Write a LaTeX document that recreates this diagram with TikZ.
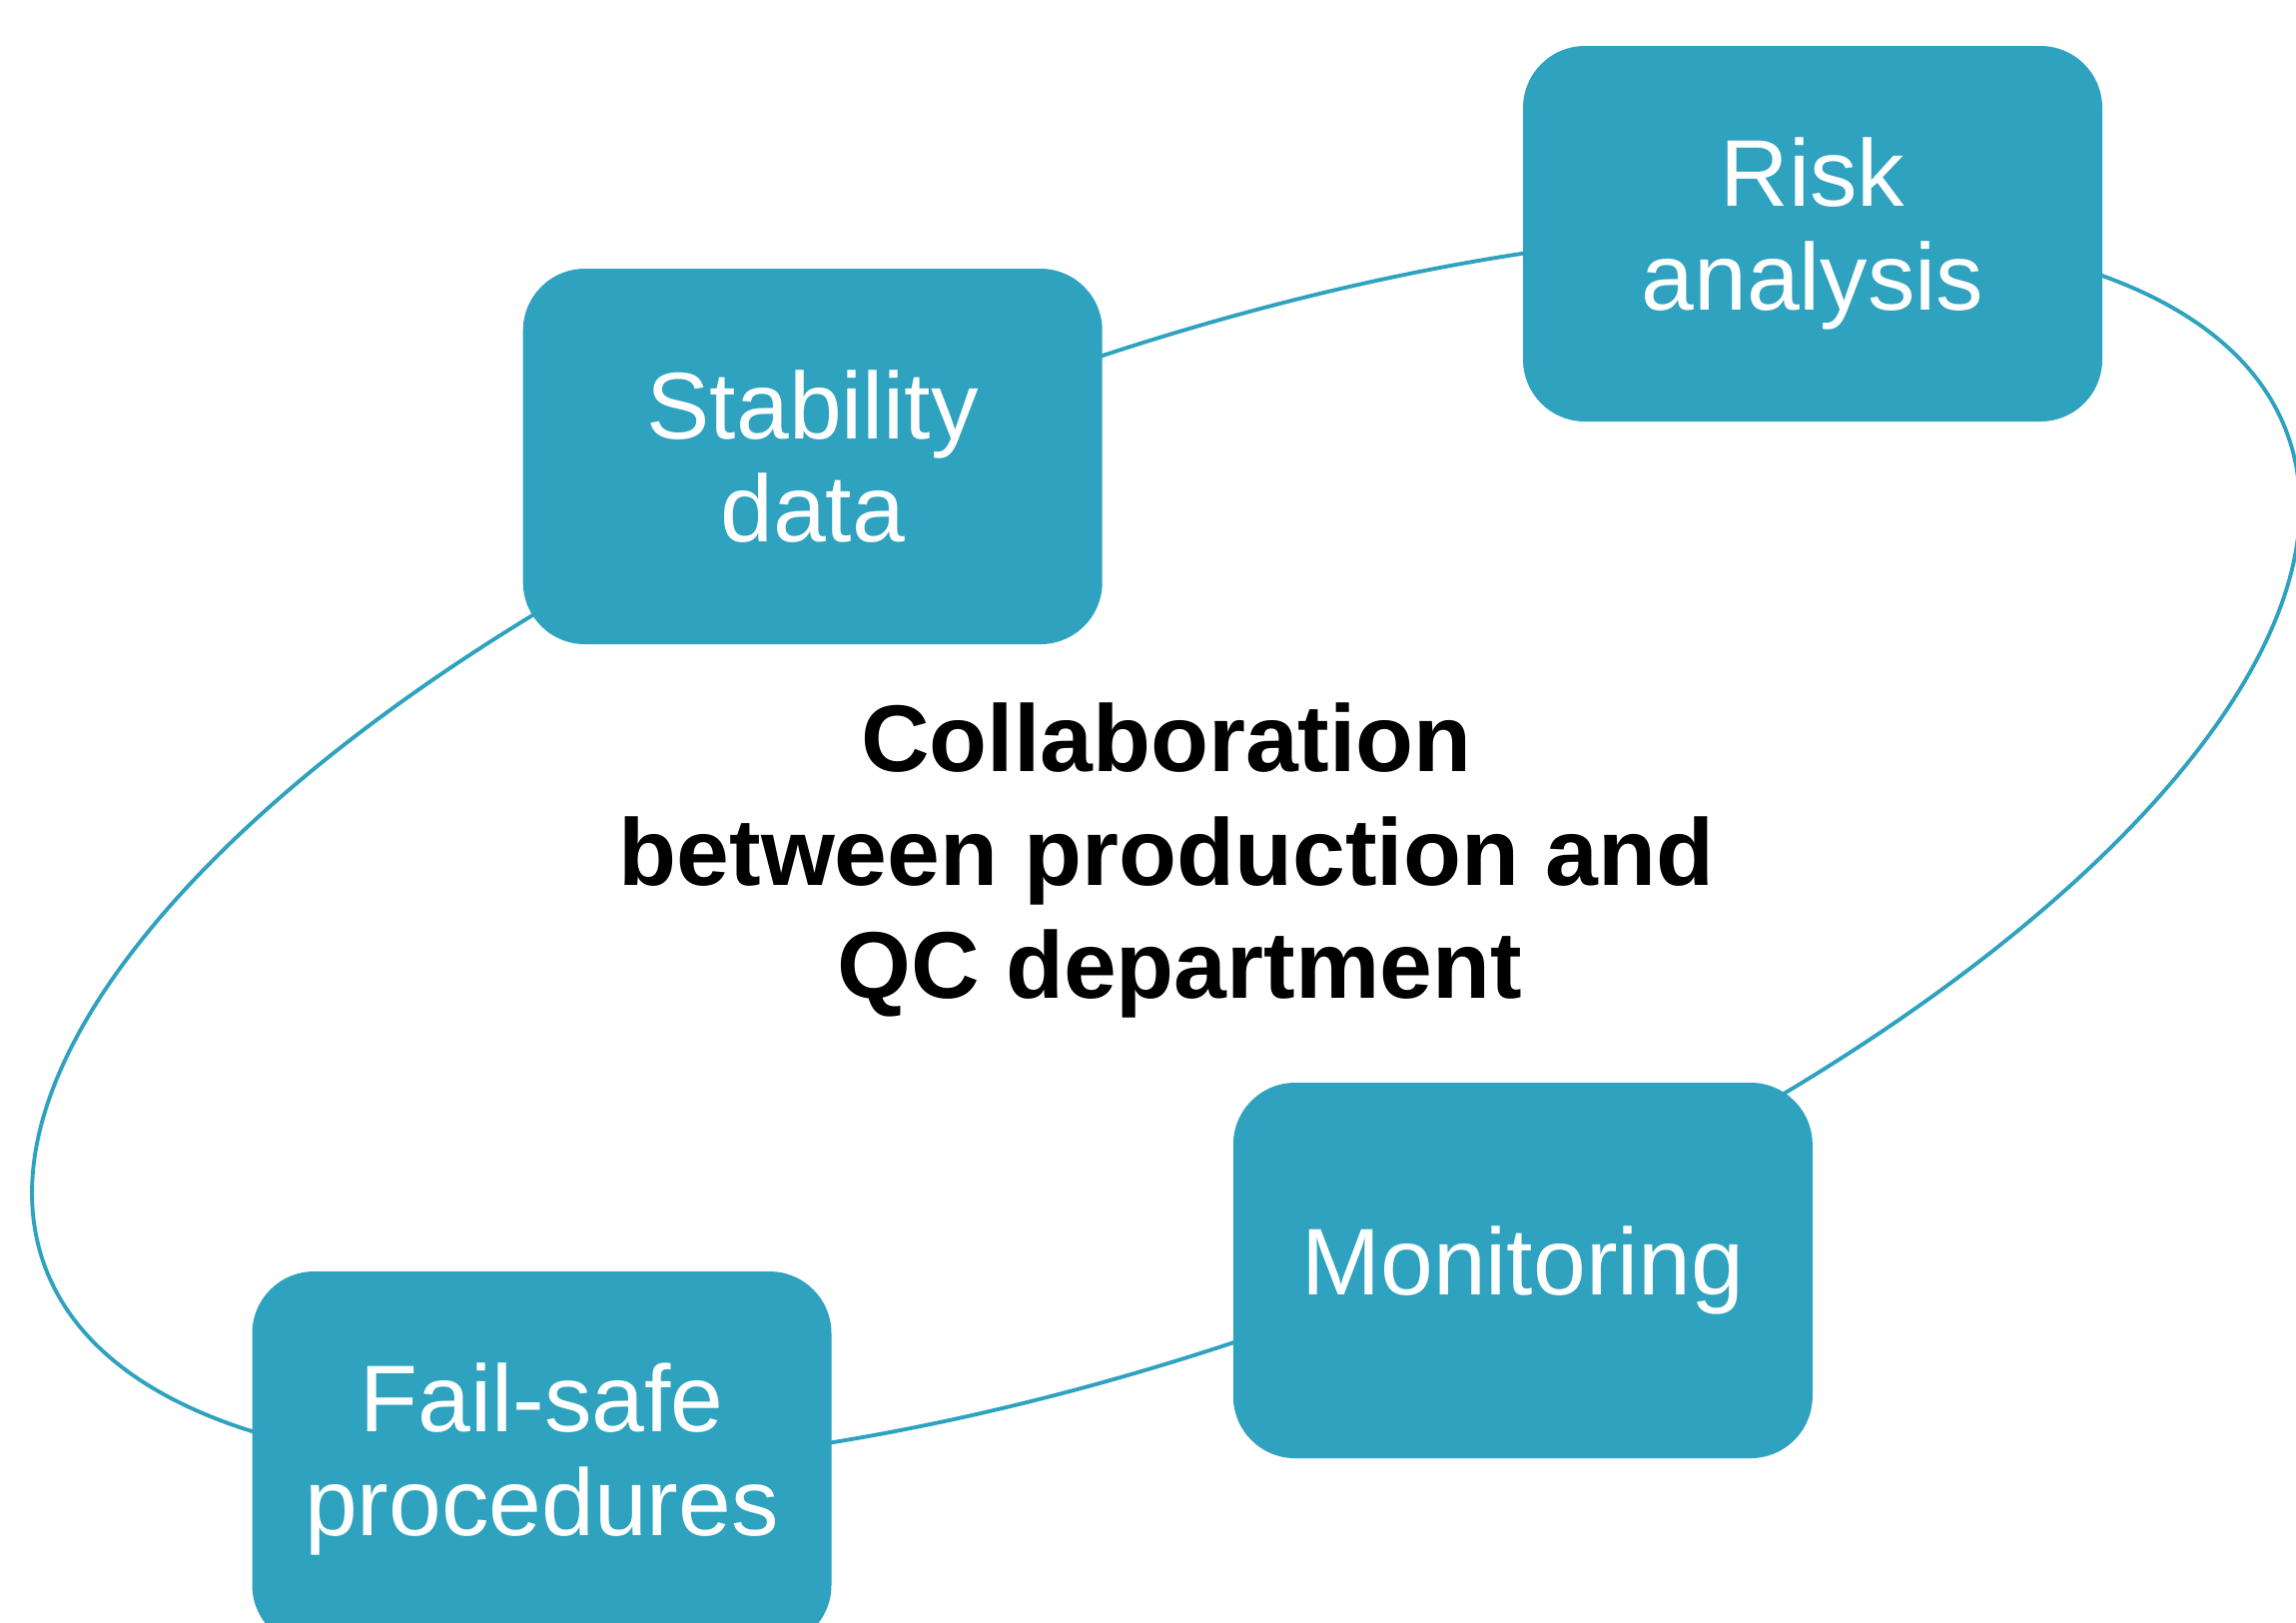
\documentclass[tikz,border=0pt]{standalone}
\usepackage{fontspec}
\setmainfont{Liberation Sans}
\definecolor{cyclecol}{RGB}{46,162,191}
\begin{document}
\begin{tikzpicture}[
  stagebox/.style={rectangle, rounded corners=0.62cm, fill=cyclecol, draw=none,
    minimum width=5.80cm, minimum height=3.76cm, inner sep=0pt,
    text=white, align=center, font=\fontsize{27}{29.5}\selectfont},
  loopline/.style={draw=cyclecol, line width=1.1pt},
  centrelabel/.style={align=center, text=black, inner sep=0pt,
    font=\fontsize{27}{32.4}\selectfont\bfseries}]
\useasboundingbox (0,0) rectangle (22.99,-16.24);
\clip (0,0) rectangle (22.99,-16.24);
\fill[white] (0,0) rectangle (22.99,-16.24);
% ring behind the four stages
\coordinate (hub) at (11.675,-8.508);
\draw[loopline, rotate around={20.4:(hub)}] (hub) ellipse [x radius=11.976, y radius=4.88];
% stages
\node[stagebox] (risk) at (18.15,-2.34) {Risk\\analysis};
\node[stagebox] (stab) at (8.137,-4.57) {Stability\\data};
\node[stagebox] (mon) at (15.248,-12.72) {Monitoring};
\node[stagebox] (fail) at (5.425,-14.61) {Fail-safe\\procedures};
% central caption
\node[centrelabel] (collab) at (11.68,-8.615) {Collaboration\\between production and\\\hspace{0.278em}QC department};
\end{tikzpicture}
\end{document}
